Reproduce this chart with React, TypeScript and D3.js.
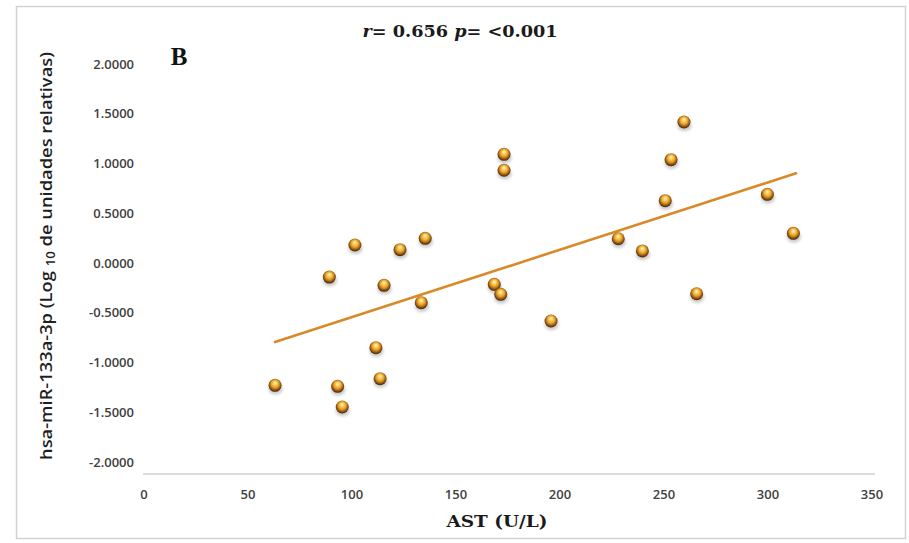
import React from "react";
import * as d3 from "d3";

// AST (U/L) values per sample
const astValues = [
  63.0, 89.1, 93.1, 95.3, 101.4, 111.5, 113.5, 115.4, 123.1, 133.3, 135.2, 168.4,
  171.5, 173.1, 173.1, 195.7, 228.0, 239.6, 250.6, 253.4, 259.6, 265.7, 299.7, 312.2,
];
// hsa-miR-133a-3p expression (log10 relative units)
const mirValues = [
  -1.229, -0.141, -1.239, -1.447, 0.181, -0.851, -1.163, -0.224, 0.134, -0.399, 0.248, -0.214,
  -0.315, 1.092, 0.932, -0.583, 0.244, 0.121, 0.626, 1.038, 1.417, -0.309, 0.69, 0.298,
];
const xTicks = [0, 50, 100, 150, 200, 250, 300, 350];
const yTicks = [2, 1.5, 1, 0.5, 0, -0.5, -1, -1.5, -2];
const yAxisFloor = -2.12;

const W = 909;
const H = 543;

export default function App() {
  const x = d3.scaleLinear().domain([0, 350]).range([144, 872]);
  const y = d3.scaleLinear().domain([-2, 2]).range([462, 64]);

  // least-squares trend line across the observed AST range
  const mx = d3.mean(astValues)!;
  const my = d3.mean(mirValues)!;
  const sxy = d3.sum(astValues, (v, i) => (v - mx) * (mirValues[i] - my));
  const sxx = d3.sum(astValues, (v) => (v - mx) ** 2);
  const slope = sxy / sxx;
  const intercept = my - slope * mx;
  const [xMin, xMax] = d3.extent(astValues) as [number, number];
  const trend = d3
    .line<number>()
    .x((v) => x(v))
    .y((v) => y(intercept + slope * v))([xMin, xMax + 1.3]);

  const points = astValues.map((v, i) => ({ ax: v, mir: mirValues[i] }));

  return (
    <svg
      width={W}
      height={H}
      style={{ position: "absolute", left: 0, top: 0, background: "#fff" }}
    >
      <defs>
        <radialGradient id="bead" cx="50%" cy="45%" r="55%" fx="50%" fy="30%">
          <stop offset="0%" stopColor="#fffbe0" />
          <stop offset="22%" stopColor="#fcd870" />
          <stop offset="55%" stopColor="#e69a22" />
          <stop offset="82%" stopColor="#87500f" />
          <stop offset="100%" stopColor="#3a2007" />
        </radialGradient>
        <filter id="soft" x="-50%" y="-50%" width="200%" height="200%">
          <feGaussianBlur stdDeviation="1.6" />
        </filter>
      </defs>

      <rect x={16.5} y={6.5} width={889} height={532} fill="#fff" stroke="#d2d2d2" strokeWidth={1.5} />

      <text
        x={460}
        y={37}
        textAnchor="middle"
        fontFamily="'DejaVu Serif', 'Liberation Serif', serif"
        fontWeight="bold"
        fontSize={17.5}
        fill="#1a1a1a"
        textLength={195}
        lengthAdjust="spacingAndGlyphs"
      >
        <tspan fontStyle="italic">r</tspan>
        <tspan>= 0.656 </tspan>
        <tspan fontStyle="italic">p</tspan>
        <tspan>= &lt;0.001</tspan>
      </text>

      <text
        x={179}
        y={65}
        textAnchor="middle"
        fontFamily="'Liberation Serif', serif"
        fontWeight="bold"
        fontSize={25}
        fill="#111"
      >
        B
      </text>

      {/* y tick labels */}
      {yTicks.map((t) => (
        <text
          key={t}
          x={134}
          y={y(t)}
          dy="0.35em"
          textAnchor="end"
          fontFamily="'Open Sans', 'DejaVu Sans', sans-serif"
          fontWeight={600}
          fontSize={13}
          fill="#404040"
        >
          {d3.format(".4f")(t).replace("−", "-")}
        </text>
      ))}

      {/* x axis */}
      <line x1={143} x2={875} y1={y(yAxisFloor)} y2={y(yAxisFloor)} stroke="#d0d0d0" strokeWidth={1.5} />
      {xTicks.map((t) => (
        <text
          key={t}
          x={x(t)}
          y={494}
          dy="0.35em"
          textAnchor="middle"
          fontFamily="'Open Sans', 'DejaVu Sans', sans-serif"
          fontWeight={600}
          fontSize={13}
          fill="#404040"
        >
          {t}
        </text>
      ))}

      <text
        x={497}
        y={527}
        textAnchor="middle"
        fontFamily="'DejaVu Serif', 'Liberation Serif', serif"
        fontWeight="bold"
        fontSize={17.5}
        fill="#1a1a1a"
        textLength={101}
        lengthAdjust="spacingAndGlyphs"
      >
        AST (U/L)
      </text>

      <text
        transform={`translate(52, 256) rotate(-90)`}
        textAnchor="middle"
        fontFamily="'Open Sans', 'DejaVu Sans', sans-serif"
        fontWeight={600}
        fontSize={16.5}
        fill="#1f1f1f"
        textLength={408}
        lengthAdjust="spacingAndGlyphs"
      >
        <tspan>hsa-miR-133a-3p  (Log </tspan>
        <tspan fontSize={12} dy={3}>10</tspan>
        <tspan dy={-3}> de unidades relativas)</tspan>
      </text>

      {trend && (
        <path d={trend} fill="none" stroke="#d98a28" strokeWidth={2.6} strokeLinecap="round" />
      )}

      {points.map((p, i) => (
        <g key={i} transform={`translate(${x(p.ax)},${y(p.mir)})`}>
          <ellipse cx={0.5} cy={3.5} rx={7.2} ry={5.8} fill="#000" opacity={0.2} filter="url(#soft)" />
          <circle r={6.5} fill="url(#bead)" />
        </g>
      ))}
    </svg>
  );
}
